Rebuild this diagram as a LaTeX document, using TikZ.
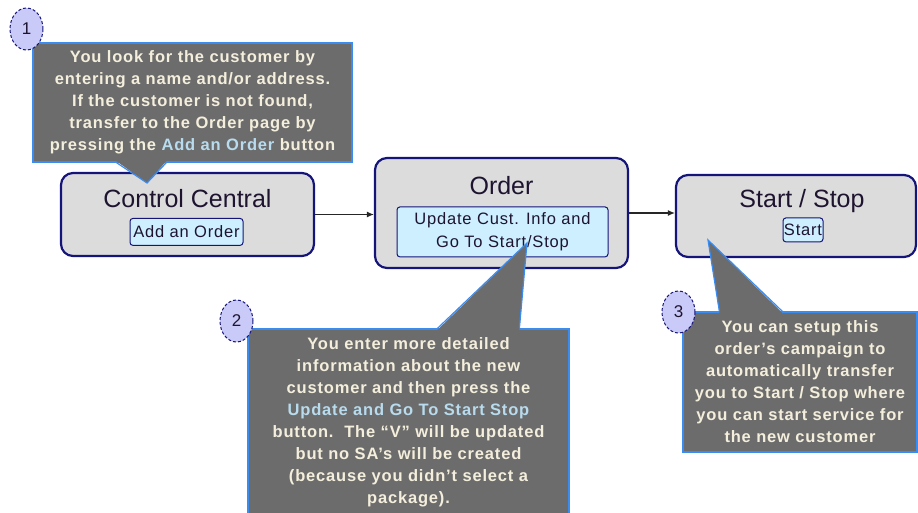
\documentclass[tikz,border=0pt]{standalone}
\usepackage{xcolor}
\usepackage{fontspec}
\setmainfont{Liberation Sans}
\usepackage{tikz}
\usetikzlibrary{
  arrows.meta,
  shapes.geometric,
  positioning,
  calc
}
\definecolor{ocNavy}{HTML}{14147A}
\definecolor{ocStage}{HTML}{DCDCDC}
\definecolor{ocButton}{HTML}{CDEFFF}
\definecolor{ocNote}{HTML}{6C6C6C}
\definecolor{ocEdge}{HTML}{3A8CF0}
\definecolor{ocText}{HTML}{F4EEDC}
\definecolor{ocLink}{HTML}{B8DCEE}
\definecolor{ocBadge}{HTML}{CACAF8}
\definecolor{ocInk}{HTML}{1E1430}
\tikzset{
  stage/.style={
    draw=ocNavy, fill=ocStage, line width=2.2pt, rounded corners=12pt, inner sep=0pt
  },
  stagetitle/.style={font=\fontsize{25}{28}\selectfont, text=ocInk, inner sep=0pt},
  button/.style={
    draw=ocNavy, fill=ocButton, line width=1pt, rounded corners=3pt,
    font=\fontsize{16.5}{23}\selectfont\addfontfeature{LetterSpace=5}, text=ocInk, align=center, inner sep=0pt
  },
  note/.style={
    draw=ocEdge, fill=ocNote, line width=1.2pt, inner sep=0pt,
    font=\fontsize{16.5}{22}\selectfont\bfseries\addfontfeature{LetterSpace=5}, text=ocText, align=center
  },
  pointerfill/.style={fill=ocNote},
  pointeredge/.style={draw=ocEdge, line width=1.2pt},
  badge/.style={
    ellipse, draw=ocNavy, fill=ocBadge, line width=1pt, dash pattern=on 3pt off 2pt,
    minimum width=33pt, minimum height=42pt, inner sep=0pt,
    font=\fontsize{17}{20}\selectfont, text=ocInk
  },
  flow/.style={-{Latex[length=7pt,width=6pt]}, line width=1.1pt, black!85},
  link/.style={text=ocLink}
}

\begin{document}
\begin{tikzpicture}[x=1pt, y=-1pt]
  \useasboundingbox (0,0) rectangle (918,512);
  % stages
  \node[stage, minimum width=253pt, minimum height=83pt] (cc) at (187.5,214.5) {};
  \node[stagetitle] (cctitle) at ($(cc.north)+(0,27)$) {Control Central};
  \node[button, minimum width=113pt, minimum height=27pt] (ccbtn) at ($(cc.north)+(-1,60)$) {Add an Order};

  \node[stage, minimum width=253pt, minimum height=110pt] (order) at (501.5,213) {};
  \node[stagetitle] (ordertitle) at ($(order.north)+(0,29)$) {Order};
  \node[button, minimum width=211pt, minimum height=50pt] (orderbtn) at ($(order.north)+(1,75)$) {Update Cust. Info and\\Go To Start/Stop};

  \node[stage, minimum width=240pt, minimum height=82pt] (ss) at (796,216) {};
  \node[stagetitle] (sstitle) at ($(ss.north)+(6,27)$) {Start / Stop};
  \node[button, minimum width=40pt, minimum height=24pt] (ssbtn) at ($(ss.north)+(7,56)$) {Start};

  \foreach \s/\e in {cc/order, order/ss}{\draw[flow] (\s.east) -- (\s.east -| \e.west);}

  % callout 1
  \node[note, minimum width=319pt, minimum height=119pt] (note1) at (192.5,102.5)
    {You look for the customer by\\entering a name and/or address.\\If the customer is not found,\\transfer to the Order page by\\pressing the \textcolor{ocLink}{Add an Order} button};
  \coordinate (tip1) at (147,183);
  \fill[pointerfill] ($(note1.south west)+(84,-1.5)$) -- (tip1) -- ($(note1.south west)+(134,-1.5)$) -- cycle;
  \draw[pointeredge] ($(note1.south west)+(84,0)$) -- (tip1) -- ($(note1.south west)+(134,0)$);
  \node[badge] (badge1) at (26.5,29) {1};

  % callout 2
  \node[note, minimum width=321pt, minimum height=186pt] (note2) at (408.5,422)
    {You enter more detailed\\information about the new\\customer and then press the\\\textcolor{ocLink}{Update and Go To Start Stop}\\button.\ \ The “V” will be updated\\but no SA’s will be created\\(because you didn’t select a\\package).};
  \coordinate (tip2) at (527,243);
  \fill[pointerfill] ($(note2.north west)+(190,1.5)$) -- (tip2) -- ($(note2.north west)+(272,1.5)$) -- cycle;
  \draw[pointeredge] ($(note2.north west)+(190,0)$) -- (tip2) -- ($(note2.north west)+(272,0)$);
  \node[badge] (badge2) at (236.5,321) {2};

  % callout 3
  \node[note, minimum width=234pt, minimum height=140pt] (note3) at (800,382)
    {You can setup this\\order’s campaign to\\automatically transfer\\you to Start / Stop where\\you can start service for\\the new customer};
  \coordinate (tip3) at (708,240);
  \fill[pointerfill] ($(note3.north west)+(37,1.5)$) -- (tip3) -- ($(note3.north west)+(100,1.5)$) -- cycle;
  \draw[pointeredge] ($(note3.north west)+(37,0)$) -- (tip3) -- ($(note3.north west)+(100,0)$);
  \node[badge] (badge3) at (678.5,312) {3};
\end{tikzpicture}
\end{document}
